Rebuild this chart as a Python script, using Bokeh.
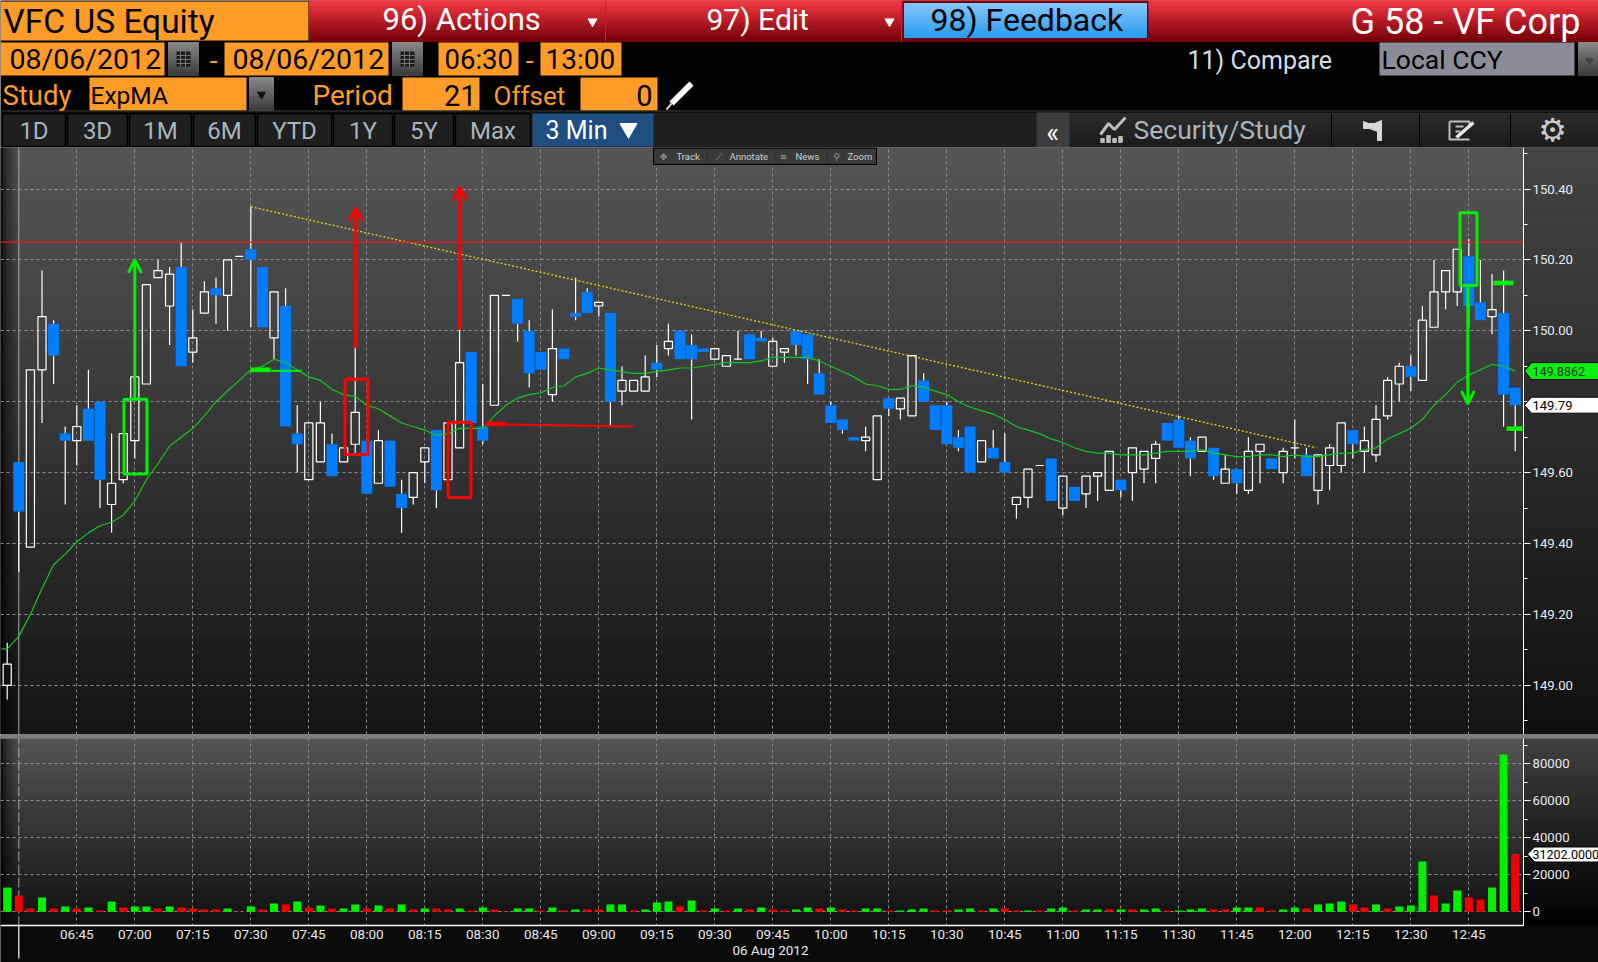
from bokeh.plotting import figure
from bokeh.layouts import column
from bokeh.models import Range1d, FixedTicker, NumeralTickFormatter, Span
from bokeh.core.properties import value
from bokeh.embed import file_html
from bokeh.resources import INLINE

# ---------- data ----------
bar_minutes = [387 + 3 * k for k in range(131)]   # 06:27 ... 12:57, 3 minute bars

opens = [149.00,149.63,149.39,149.89,150.02,149.71,149.69,149.78,149.80,149.51,149.58,149.69,149.85,150.15,150.07,150.18,149.94,150.05,150.12,150.10,150.21,150.23,150.18,149.98,150.07,149.71,149.58,149.63,149.68,149.63,149.68,149.69,149.57,149.69,149.54,149.53,149.63,149.72,149.58,149.67,149.94,149.73,149.79,150.10,150.09,150.00,149.94,149.82,149.95,150.05,150.11,150.07,150.05,149.83,149.83,149.83,149.91,149.95,150.00,149.96,149.95,149.92,149.90,149.92,149.99,149.98,149.90,149.94,150.00,149.99,149.88,149.79,149.75,149.70,149.69,149.58,149.81,149.78,149.76,149.86,149.79,149.79,149.70,149.73,149.63,149.67,149.63,149.51,149.53,149.62,149.64,149.50,149.56,149.54,149.59,149.55,149.58,149.60,149.61,149.64,149.74,149.75,149.69,149.66,149.67,149.57,149.61,149.55,149.66,149.64,149.60,149.67,149.65,149.55,149.62,149.62,149.72,149.66,149.65,149.76,149.85,149.90,149.86,150.01,150.11,150.11,150.21,150.08,150.04,150.05,149.84]
closes = [149.06,149.49,149.89,150.04,149.93,149.69,149.73,149.69,149.58,149.57,149.71,149.87,150.13,150.17,150.16,149.90,149.98,150.11,150.10,150.20,150.21,150.20,150.01,150.11,149.73,149.68,149.74,149.74,149.59,149.67,149.77,149.54,149.69,149.56,149.50,149.60,149.67,149.55,149.74,149.91,149.74,149.69,150.10,150.10,150.02,149.88,149.89,149.95,149.92,150.04,150.05,150.08,149.80,149.86,149.86,149.87,149.89,149.97,149.92,149.92,149.94,149.95,149.93,149.92,149.92,149.97,149.97,149.95,149.96,149.92,149.82,149.74,149.72,149.69,149.70,149.76,149.78,149.81,149.93,149.80,149.72,149.68,149.67,149.60,149.69,149.64,149.60,149.53,149.61,149.62,149.52,149.59,149.52,149.59,149.60,149.66,149.55,149.67,149.66,149.68,149.69,149.67,149.64,149.70,149.59,149.61,149.57,149.66,149.68,149.61,149.66,149.67,149.59,149.65,149.67,149.74,149.68,149.69,149.75,149.86,149.90,149.87,150.03,150.11,150.17,150.23,150.07,150.03,150.06,149.82,149.79]
highs = [149.12,149.63,149.89,150.17,150.03,149.73,149.79,149.89,149.80,149.71,149.71,149.87,150.13,150.20,150.18,150.25,150.06,150.14,150.15,150.20,150.21,150.35,150.18,150.11,150.12,149.79,149.74,149.80,149.71,149.67,149.96,149.69,149.72,149.69,149.58,149.60,149.67,149.72,149.74,150.06,149.94,149.85,150.10,150.10,150.09,150.03,149.94,150.06,149.95,150.15,150.12,150.08,150.05,149.90,149.86,149.93,149.96,150.02,150.00,149.99,149.95,149.95,149.93,150.00,149.99,150.00,149.98,149.95,150.00,149.99,149.92,149.80,149.75,149.70,149.73,149.76,149.81,149.81,149.93,149.88,149.79,149.80,149.72,149.73,149.69,149.72,149.71,149.53,149.61,149.62,149.64,149.59,149.56,149.59,149.60,149.66,149.58,149.67,149.66,149.69,149.74,149.76,149.70,149.70,149.67,149.65,149.61,149.70,149.68,149.64,149.67,149.75,149.67,149.65,149.68,149.74,149.72,149.73,149.79,149.87,149.91,149.93,150.07,150.20,150.17,150.23,150.26,150.20,150.16,150.17,149.84]
lows = [148.96,149.32,149.39,149.74,149.85,149.51,149.62,149.69,149.50,149.43,149.57,149.64,149.85,150.15,149.96,149.90,149.91,150.05,150.02,150.00,150.21,150.01,150.01,149.92,149.73,149.60,149.58,149.63,149.59,149.63,149.65,149.54,149.57,149.56,149.43,149.51,149.57,149.50,149.58,149.67,149.74,149.68,149.79,150.10,149.97,149.84,149.89,149.80,149.92,150.03,150.05,150.04,149.73,149.79,149.83,149.83,149.87,149.93,149.92,149.75,149.94,149.92,149.90,149.92,149.92,149.97,149.90,149.91,149.93,149.85,149.82,149.74,149.71,149.69,149.66,149.58,149.76,149.75,149.76,149.80,149.72,149.68,149.66,149.60,149.63,149.64,149.60,149.47,149.50,149.62,149.52,149.48,149.52,149.50,149.52,149.55,149.53,149.52,149.57,149.57,149.69,149.67,149.59,149.66,149.58,149.57,149.54,149.54,149.57,149.61,149.57,149.64,149.59,149.51,149.55,149.60,149.64,149.60,149.63,149.75,149.80,149.83,149.86,150.01,150.06,150.07,150.01,150.03,149.99,149.73,149.66]
ema = [149.103,149.138,149.20,149.273,149.34,149.37,149.405,149.43,149.45,149.46,149.48,149.52,149.58,149.625,149.675,149.70,149.725,149.76,149.80,149.83,149.86,149.89,149.90,149.92,149.91,149.89,149.87,149.86,149.835,149.82,149.815,149.79,149.78,149.76,149.74,149.73,149.72,149.705,149.71,149.725,149.725,149.725,149.76,149.79,149.81,149.82,149.825,149.84,149.845,149.87,149.88,149.895,149.89,149.885,149.88,149.88,149.885,149.89,149.895,149.895,149.90,149.905,149.91,149.91,149.91,149.915,149.925,149.925,149.925,149.925,149.915,149.90,149.885,149.87,149.85,149.845,149.835,149.835,149.845,149.84,149.83,149.82,149.80,149.785,149.775,149.765,149.75,149.73,149.72,149.71,149.695,149.685,149.67,149.66,149.655,149.655,149.65,149.65,149.65,149.655,149.66,149.66,149.66,149.665,149.655,149.65,149.645,149.645,149.65,149.65,149.645,149.65,149.645,149.645,149.65,149.655,149.655,149.665,149.67,149.695,149.71,149.725,149.75,149.79,149.82,149.855,149.875,149.89,149.905,149.90,149.8862]
volumes = [13140,8820,1800,7740,1800,2880,1800,2340,720,5580,2340,2880,2880,1800,2880,2340,1800,1260,1260,1800,200,2880,1260,4500,3960,5580,2340,3420,1800,1800,3960,1800,3420,1800,3960,1260,1800,1800,1260,1800,720,2340,1260,200,1800,1800,720,2340,720,1260,1260,1260,3960,3960,720,1260,5040,5580,2880,6120,720,1800,720,1800,1260,2340,1260,720,1260,2340,1800,2340,1260,720,1800,1800,720,720,1260,1800,720,720,1260,1800,720,1800,1800,720,720,720,1800,2340,720,1260,1260,1260,1260,1260,1260,1800,720,720,1260,1800,1260,1260,2340,2340,2340,720,1260,2340,1800,3960,4500,5580,3960,2340,3960,1800,2880,3420,27180,8820,4500,11520,7740,6660,13140,84960,31202]
volume_up = ("grrgrgrgrg" "rggrgrrrrg" "rgrgrgrgrg" "grgrgrgrrg" "rgrrggrgrg" "rrggrgggrg" "rgrgrgrrgg"
             "rgrrggrggg" "rrggrgrrgr" "ggrggrgrgg" "rgggrrggrr" "ggrgggrrgr" "gggrggrrgg" "r")
price_ticks = [149.0, 149.2, 149.4, 149.6, 149.8, 150.0, 150.2, 150.4]
price_minor = [148.9, 149.1, 149.3, 149.5, 149.7, 149.9, 150.1, 150.3, 150.5]
vol_ticks = [0, 20000, 40000, 60000, 80000]
vol_minor = [10000, 30000, 50000, 70000, 90000]
time_ticks = [405,420,435,450,465,480,495,510,525,540,555,570,585,600,615,630,645,660,675,690,705,720,735,750,765]
time_labels = ["06:45","07:00","07:15","07:30","07:45","08:00","08:15","08:30","08:45","09:00","09:15","09:30","09:45","10:00","10:15","10:30","10:45","11:00","11:15","11:30","11:45","12:00","12:15","12:30","12:45"]
resistance = 150.25
trend_t = [450, 725.6]
trend_p = [150.35, 149.67]

# ---------- layout ----------
W, H = 1598, 962
H1, H2 = 147, 587
H3 = H - H1 - H2
B1 = H1
B2 = H1 + H2

def xm(px): return 390 + (px - 18.3) / 3.8667
def yp(py): return 150 - (py - 330.3) / 354.5
def yv(py): return (911.3 - py) * 540.5

FONT = "Roboto"
x_rng = Range1d(xm(0), xm(1598))

def hexmix(c0, c1, t):
    a = [int(c0[i:i+2], 16) for i in (1, 3, 5)]
    b = [int(c1[i:i+2], 16) for i in (1, 3, 5)]
    return "#%02x%02x%02x" % tuple(int(round(a[k] + (b[k] - a[k]) * t)) for k in range(3))

def grad(p, x0, x1, y0, y1, c0, c1, n=40, fy=lambda v: v, level="image"):
    e = [y0 + (y1 - y0) * k / n for k in range(n + 1)]
    cols = [hexmix(c0, c1, (k + .5) / n) for k in range(n)]
    p.quad(left=x0, right=x1, top=[fy(v) for v in e[:-1]], bottom=[fy(v) for v in e[1:]],
           fill_color=cols, line_color=cols, line_width=1, level=level)

def label(p, x, y, s, size, color="#000000", align="left", font=FONT, level="overlay"):
    p.text(x=[x], y=[y], text=[s], text_font=value(font), text_font_size=size, text_color=color,
           text_align=align, text_baseline="middle", level=level)

def base(height, xr, yr, **kw):
    return figure(width=W, height=height, x_range=xr, y_range=yr, output_backend="svg",
                  toolbar_location=None, min_border=0, outline_line_color=None,
                  background_fill_color="#000000", border_fill_color="#000000", **kw)

# ---------- header ----------
h = base(H1, Range1d(0, 1598), Range1d(B1, 0), x_axis_location=None, y_axis_location=None)
h.grid.visible = False
ORANGE = "#ff9c28"

def box(p, x0, x1, y0, y1, c, line=None, lw=1):
    p.quad(left=[x0], right=[x1], top=[y0], bottom=[y1], fill_color=c, line_color=line, line_width=lw)

grad(h, 309, 1598, 0, 41, "#f93a48", "#760008", 24, level="glyph")
box(h, 0, 308, 1, 40, ORANGE)
label(h, 3, 21, "VFC US Equity", "33.5px")
label(h, 382, 19, "96) Actions", "31px", "#ffffff")
h.scatter([592], [21], marker="inverted_triangle", size=9, color="#ffffff")
h.segment([605, 901], [0, 0], [605, 901], [41, 41], line_color="#a0303a", line_width=1)
label(h, 706, 19, "97) Edit", "30px", "#ffffff")
h.scatter([889], [21], marker="inverted_triangle", size=9, color="#ffffff")
box(h, 902, 1148, 0, 41, "#70000a")
grad(h, 904, 1146, 3, 37, "#86c8fb", "#2a9ef0", 16, level="glyph")
label(h, 930, 19, "98) Feedback", "32px", "#000000")
label(h, 1350, 21, "G 58 - VF Corp", "36px", "#ffffff")

box(h, 0, 164, 42, 75, ORANGE)
label(h, 9, 59, "08/06/2012", "28.5px")
box(h, 224, 388, 42, 75, ORANGE)
label(h, 232, 59, "08/06/2012", "28.5px")
box(h, 438, 518, 42, 75, ORANGE)
label(h, 444, 59, "06:30", "27.5px")
box(h, 540, 621, 42, 75, ORANGE)
label(h, 545, 59, "13:00", "28px")
label(h, 213, 59, "-", "28px", ORANGE, "center")
label(h, 529, 59, "-", "28px", ORANGE, "center")
for a in (168, 392):
    grad(h, a, a + 30, 42, 75, "#8a8a8a", "#3c3c3c", 12, level="glyph")
    box(h, a + 8, a + 22, 51, 66, "#1c1c1c")
    h.multi_line([[a + 8, a + 22]] * 3 + [[a + 12, a + 12], [a + 17, a + 17]],
                 [[55, 55], [59, 59], [63, 63], [51, 66], [51, 66]], line_color="#777777", line_width=1)

label(h, 2, 95, "Study", "27.5px", ORANGE)
box(h, 89, 246, 77, 110, ORANGE)
label(h, 90, 95, "ExpMA", "24.5px")
grad(h, 249, 273, 77, 110, "#8a8a8a", "#3c3c3c", 12, level="glyph")
h.scatter([261], [94], marker="inverted_triangle", size=8, color="#111111")
label(h, 312, 95, "Period", "28px", ORANGE)
box(h, 402, 479, 77, 110, ORANGE)
label(h, 476, 95, "21", "29px", align="right")
label(h, 493, 95, "Offset", "26px", ORANGE)
box(h, 580, 657, 77, 110, ORANGE)
label(h, 652, 95, "0", "29px", align="right")
h.segment([671], [103], [691], [83], line_color="#ffffff", line_width=6)
h.segment([666], [109], [671], [103], line_color="#cccccc", line_width=2)

label(h, 1187, 60, "11) Compare", "25px", "#d6dde4")
box(h, 1379, 1574, 42, 75, "#8c8c98")
label(h, 1381, 59, "Local CCY", "26.5px")
grad(h, 1578, 1598, 42, 75, "#8a8a8a", "#3c3c3c", 12, level="glyph")
h.scatter([1589], [60], marker="inverted_triangle", size=8, color="#444444")

h.segment([0], [110.5], [1598], [110.5], line_color="#444444", line_width=1)
box(h, 0, 1598, 112, 147, "#1f1f1f")
tabs = [(2, 65, "1D"), (67, 127, "3D"), (129, 191, "1M"), (193, 255, "6M"), (257, 331, "YTD"),
        (333, 392, "1Y"), (394, 453, "5Y"), (455, 530, "Max")]
for a, b, s in tabs:
    box(h, a, b, 113, 146, "#1f1f1f", "#000000", 1.5)
    label(h, (a + b) / 2, 130, s, "24px", "#a9b4bf", "center")
box(h, 532, 653, 113, 146, "#1f4e80")
label(h, 545, 130, "3 Min", "25px", "#ffffff")
h.scatter([628], [128], marker="inverted_triangle", size=17, color="#ffffff")
box(h, 1036, 1069, 112, 147, "#3d3d3d")
label(h, 1052, 132, "«", "27px", "#ffffff", "center")
for a, b in [(1070, 1331), (1332, 1419), (1420, 1510), (1511, 1598)]:
    grad(h, a, b, 113, 147, "#2b2b2b", "#1c1c1c", 8, level="glyph")
h.segment([1331, 1419, 1510], [113] * 3, [1331, 1419, 1510], [147] * 3, line_color="#000000", line_width=1)
label(h, 1133, 129, "Security/Study", "26.5px", "#a9b4bf")
h.line([1100, 1108, 1114, 1125], [134, 123, 129, 117], line_color="#bdbdbd", line_width=3)
h.vbar(x=[1102, 1108, 1114, 1120], width=3.5, bottom=142, top=[138, 135, 138, 136], color="#bdbdbd")
h.patch([1363, 1368, 1374, 1381, 1381, 1377, 1377, 1369, 1363], [121, 123, 123, 120, 140, 140, 131, 128, 128], color="#d8d8d8")
h.line([1449, 1469, 1469], [121, 121, 125], line_color="#bdbdbd", line_width=2)
h.line([1449, 1449, 1469], [121, 139, 139], line_color="#bdbdbd", line_width=2)
h.segment([1455, 1455], [126, 131], [1463, 1460], [126, 131], line_color="#bdbdbd", line_width=2)
h.segment([1456], [137], [1473], [122], line_color="#e6e6e6", line_width=3.5)
label(h, 1552, 129, "⚙", "32px", "#c8c8c8", "center", "DejaVu Sans")

# ---------- price pane ----------
p = base(H2, x_rng, Range1d(yp(B2), yp(B1)), x_axis_location=None, y_axis_location="right")
grad(p, xm(0), xm(1598), B1, B2, "#565656", "#141414", 60, yp)
for a, b, al in [(0, 3, .8), (3, 6, .55), (6, 9, .4), (9, 12, .3), (12, 15, .2), (15, 18, .1)]:
    p.quad(left=[xm(a)], right=[xm(b)], top=[yp(B1)], bottom=[yp(B2)], fill_color="#000000", fill_alpha=al,
           line_color=None, level="image")
grad(p, xm(1523), xm(1598), B1, B2, "#444444", "#101010", 60, yp, level="glyph")

p.ygrid.grid_line_color = "#929292"
p.ygrid.grid_line_dash = "3 3"
p.ygrid.grid_line_width = 1
p.xgrid.ticker = FixedTicker(ticks=time_ticks)
p.xgrid.grid_line_color = "#8a8a8a"
p.xgrid.grid_line_dash = "3 3"
p.xgrid.grid_line_width = 1
p.add_layout(Span(location=390, dimension="height", line_color="#a8a8a8", line_width=1, level="underlay"))

ax = p.yaxis[0]
ax.ticker = FixedTicker(ticks=price_ticks, minor_ticks=price_minor)
ax.formatter = NumeralTickFormatter(format="0.00")
ax.fixed_location = xm(1523)
ax.axis_line_color = "#ffffff"
ax.major_tick_line_color = "#ffffff"
ax.minor_tick_line_color = "#ffffff"
ax.major_tick_in = 0
ax.major_tick_out = 7
ax.minor_tick_in = 0
ax.minor_tick_out = 4
ax.major_label_standoff = 2
ax.major_label_text_color = "#e6ebf0"
ax.major_label_text_font = FONT
ax.major_label_text_font_size = "13.2px"

tops = [max(o, c) for o, c in zip(opens, closes)]
bots = [min(o, c) for o, c in zip(opens, closes)]
p.segment(bar_minutes, highs, bar_minutes, tops, line_color="#ffffff", line_width=1.2)
p.segment(bar_minutes, bots, bar_minutes, lows, line_color="#ffffff", line_width=1.2)
wt = [m for m, o, c in zip(bar_minutes, opens, closes) if c >= o]
wt_t = [t for t, o, c in zip(tops, opens, closes) if c >= o]
wt_b = [b for b, o, c in zip(bots, opens, closes) if c >= o]
bl = [m for m, o, c in zip(bar_minutes, opens, closes) if c < o]
bl_t = [t for t, o, c in zip(tops, opens, closes) if c < o]
bl_b = [b for b, o, c in zip(bots, opens, closes) if c < o]
p.vbar(x=wt, width=2.1, top=wt_t, bottom=wt_b, fill_color=None, line_color="#ffffff", line_width=1.2)
p.vbar(x=bl, width=2.85, top=bl_t, bottom=bl_b, fill_color="#007cff", line_color=None)
p.line(bar_minutes, ema, line_color="#10c818", line_width=1.2)
p.segment([xm(1)], [ema[0]], [bar_minutes[0]], [ema[0]], line_color="#10c818", line_width=1.2)

p.line(trend_t, trend_p, line_color="#e8d800", line_width=1.3, line_dash="2 2")
p.segment([xm(0)], [resistance], [xm(1523)], [resistance], line_color="#f01818", line_width=1.2)

GREEN = "#00f000"
RED = "#ff0000"
MARK_W = 3

def rect_mark(x0, x1, ptop, pbot, c):
    p.quad(left=[xm(x0)], right=[xm(x1)], top=[ptop], bottom=[pbot], fill_color=None, line_color=c, line_width=MARK_W)

def arrow(x, p0, p1, c):
    y1 = 330.3 + (150 - p1) * 354.5
    d = 13 if p1 > p0 else -13
    p.segment([xm(x)], [p0], [xm(x)], [p1], line_color=c, line_width=MARK_W)
    p.multi_line([[xm(x - 6.5), xm(x), xm(x + 6.5)]], [[yp(y1 + d), p1, yp(y1 + d)]], line_color=c, line_width=MARK_W)

rect_mark(123.5, 146.5, 149.807, 149.596, GREEN)
arrow(134.3, 149.807, 150.20, GREEN)
rect_mark(344.5, 367.5, 149.863, 149.651, RED)
arrow(355.3, 149.952, 150.346, RED)
rect_mark(447.5, 470.5, 149.742, 149.53, RED)
arrow(459.3, 150.003, 150.405, RED)
rect_mark(1459.5, 1476.5, 150.333, 150.128, GREEN)
arrow(1467.3, 150.128, 149.794, GREEN)
p.segment([xm(485)], [149.737], [xm(505)], [149.737], line_color=RED, line_width=4.7)
p.segment([xm(505)], [149.736], [xm(633)], [149.730], line_color=RED, line_width=2)
p.segment([xm(250)], [149.89], [xm(270)], [149.89], line_color=GREEN, line_width=4.7)
p.segment([xm(270)], [149.887], [xm(301)], [149.887], line_color=GREEN, line_width=2)
p.segment([xm(1493)], [150.135], [xm(1513)], [150.135], line_color=GREEN, line_width=4.7)
p.segment([xm(1506)], [149.724], [xm(1522)], [149.724], line_color=GREEN, line_width=4.7)

def tag(fig, fy, cy, half, x0, x1, fill):
    fig.patch([xm(x0), xm(x0 + 7), xm(x1), xm(x1), xm(x0 + 7)],
              [fy(cy), fy(cy - half), fy(cy - half), fy(cy + half), fy(cy + half)],
              fill_color=fill, line_color="#000000", line_width=1, level="annotation")

tag(p, yp, 370.6, 8.5, 1524, 1600, "#10f010")
label(p, xm(1532), 149.8862, "149.8862", "12.5px", "#063006")
tag(p, yp, 404.7, 8, 1524, 1600, "#ffffff")
label(p, xm(1532), 149.79, "149.79", "13px", "#000000")

# mini toolbar
p.quad(left=[xm(653)], right=[xm(876)], top=[yp(147.6)], bottom=[yp(164)], fill_color="#2e2e2e", line_color="#000000", line_width=1, level="overlay")
for a, b in [(654, 706), (707, 775), (776, 826), (827, 875)]:
    p.quad(left=[xm(a)], right=[xm(b)], top=[yp(148.5)], bottom=[yp(163)], fill_color="#3a3a3a", line_color=None, level="overlay")
for xx, s in [(676, "Track"), (729, "Annotate"), (795, "News"), (847, "Zoom")]:
    label(p, xm(xx), yp(156), s, "9.5px", "#d0d0d0")
for xx, s in [(663, "✥"), (718, "⟋"), (783, "≡"), (836, "⚲")]:
    label(p, xm(xx), yp(156), s, "9px", "#9a9a9a", "center", "DejaVu Sans")

# ---------- volume pane ----------
v = base(H3, x_rng, Range1d(yv(962), yv(B2)), x_axis_location="below", y_axis_location="right")
grad(v, xm(0), xm(1598), 738, 925, "#565656", "#101010", 40, yv)
for a, b, al in [(0, 3, .8), (3, 6, .55), (6, 9, .4), (9, 12, .3), (12, 15, .2), (15, 18, .1)]:
    v.quad(left=[xm(a)], right=[xm(b)], top=[yv(738)], bottom=[yv(925)], fill_color="#000000", fill_alpha=al,
           line_color=None, level="image")
grad(v, xm(1523), xm(1598), 738, 925, "#404040", "#000000", 40, yv, level="glyph")
v.xgrid.grid_line_color = "#8a8a8a"
v.xgrid.grid_line_dash = "3 3"
v.ygrid.grid_line_color = "#929292"
v.ygrid.grid_line_dash = "3 3"
v.add_layout(Span(location=390, dimension="height", line_color="#a8a8a8", line_width=1, line_dash="10 3", level="underlay"))

# below axis: black, top: separator
v.quad(left=[xm(0)], right=[xm(1598)], top=[yv(925)], bottom=[yv(962)], fill_color="#0a0a0a", line_color=None, level="glyph")
v.quad(left=[xm(0)], right=[xm(1598)], top=[yv(B2)], bottom=[yv(738.2)], fill_color="#7e7e7e", line_color=None, level="glyph")
v.segment([390], [yv(925)], [390], [yv(958)], line_color="#ffffff", line_width=1.2)

xa = v.xaxis[0]
xa.ticker = FixedTicker(ticks=time_ticks)
xa.major_label_overrides = dict(zip(time_ticks, time_labels))
xa.fixed_location = yv(925)
xa.bounds = (xm(0), xm(1523))
xa.axis_line_color = "#ffffff"
xa.axis_line_width = 1.5
xa.major_tick_line_color = None
xa.minor_tick_line_color = None
xa.major_tick_out = 0
xa.major_label_standoff = 0
xa.major_label_text_color = "#e6ebf0"
xa.major_label_text_font = FONT
xa.major_label_text_font_size = "13.5px"

ya = v.yaxis[0]
ya.ticker = FixedTicker(ticks=vol_ticks, minor_ticks=vol_minor)
ya.formatter = NumeralTickFormatter(format="0")
ya.fixed_location = xm(1523)
ya.bounds = (yv(925), yv(738))
ya.axis_line_color = "#ffffff"
ya.major_tick_line_color = "#ffffff"
ya.minor_tick_line_color = "#ffffff"
ya.major_tick_in = 0
ya.major_tick_out = 7
ya.minor_tick_in = 0
ya.minor_tick_out = 4
ya.major_label_standoff = 2
ya.major_label_text_color = "#e6ebf0"
ya.major_label_text_font = FONT
ya.major_label_text_font_size = "13.2px"

v_g = [(m, q) for m, q, f in zip(bar_minutes, volumes, volume_up) if f == "g"]
v_r = [(m, q) for m, q, f in zip(bar_minutes, volumes, volume_up) if f == "r"]
v.vbar(x=[a for a, _ in v_g], width=2.07, bottom=0, top=[b for _, b in v_g], fill_color="#00f000", line_color=None, level="annotation")
v.vbar(x=[a for a, _ in v_r], width=2.07, bottom=0, top=[b for _, b in v_r], fill_color="#f00000", line_color=None, level="annotation")

v.patch([xm(1527), xm(1534), xm(1600), xm(1600), xm(1534)],
        [31202, yv(846.5), yv(846.5), yv(861.5), yv(861.5)], fill_color="#ffffff", line_color="#000000", level="annotation")
label(v, xm(1532), 31202, "31202.0000", "12.5px", "#000000")
label(v, xm(770), yv(949.5), "06 Aug 2012", "13.5px", "#e6ebf0", "center")

page = column(h, p, v, spacing=0)
open("out.html", "w").write(file_html(page, INLINE))
